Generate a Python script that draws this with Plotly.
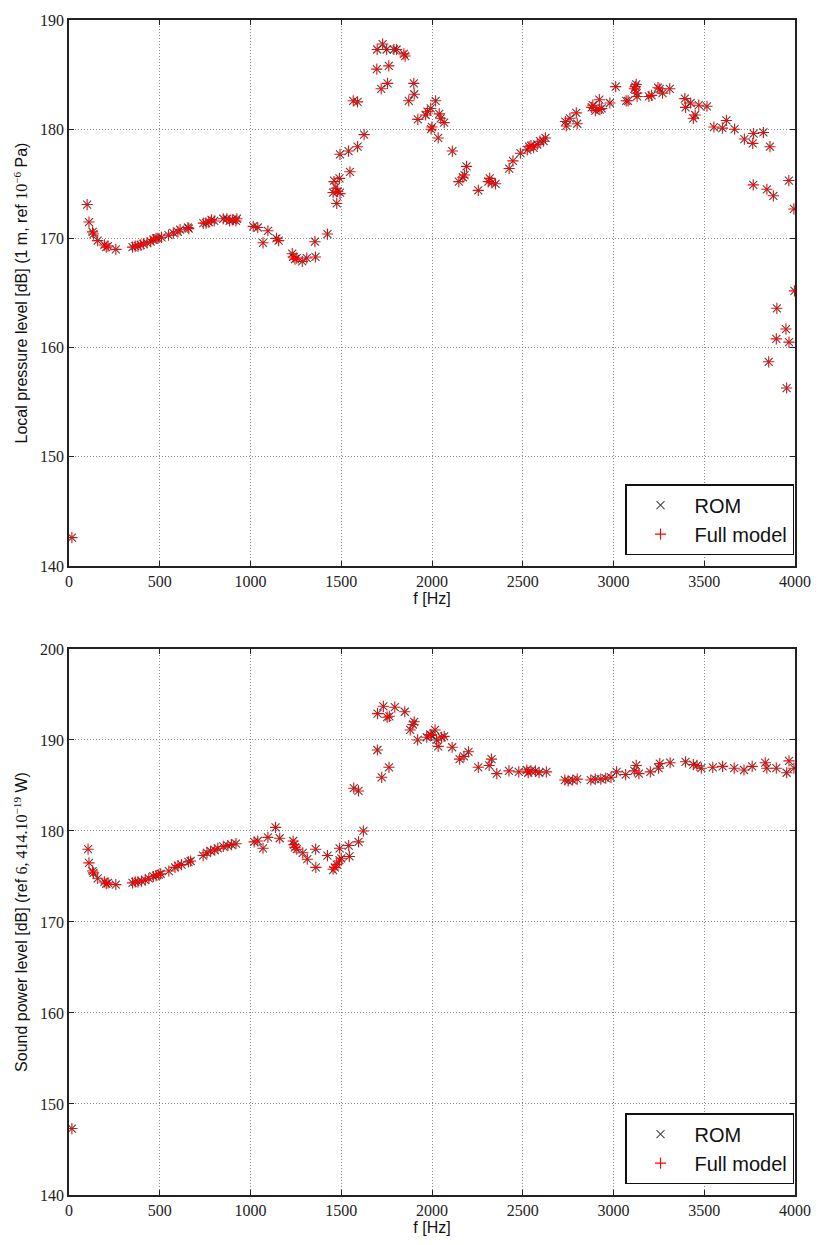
import plotly.graph_objects as go

# ---------------- Top panel: local pressure level ----------------
f_top = [16, 100, 110, 130, 135, 158, 195, 205, 215, 258, 350, 365, 380, 395, 410, 430, 450, 465, 480, 490,
         510, 548, 575, 600, 612, 655, 660, 740, 755, 770, 785, 800, 850, 870, 885, 900, 920, 925,
         1015, 1040, 1069, 1096, 1143, 1155, 1230, 1235, 1245, 1255, 1285, 1310, 1355, 1358, 1424,
         1455, 1460, 1470, 1475, 1480, 1490, 1493, 1493, 1540, 1548, 1566, 1590, 1590, 1626,
         1696, 1698, 1720, 1728, 1750, 1755, 1762, 1790, 1805, 1845, 1852, 1872, 1900, 1902, 1922,
         1965, 1975, 1993, 1995, 2000, 2020, 2034, 2040, 2048, 2067, 2112, 2148, 2170, 2179, 2190,
         2255, 2310, 2318, 2330, 2350, 2425, 2446, 2487, 2525, 2535, 2545, 2560, 2580, 2595, 2615, 2625,
         2735, 2740, 2760, 2795, 2800, 2880, 2886, 2900, 2922, 2925, 2935, 2980, 3012, 3070, 3080,
         3115, 3120, 3125, 3128, 3130, 3195, 3210, 3245, 3255, 3270, 3310, 3393, 3397, 3425, 3440,
         3450, 3470, 3515, 3553, 3600, 3622, 3667, 3721, 3767, 3770, 3772, 3826, 3845, 3855, 3862,
         3881, 3897, 3900, 3950, 3954, 3966, 3967, 3994, 3997]
lp_full = [142.6, 173.1, 171.5, 170.6, 170.4, 169.8, 169.4, 169.2, 169.3, 169.0, 169.2, 169.3, 169.3, 169.4,
           169.5, 169.6, 169.7, 169.9, 170.0, 170.0, 170.1, 170.3, 170.5, 170.6, 170.8, 171.0, 170.9,
           171.4, 171.4, 171.5, 171.7, 171.6, 171.8, 171.8, 171.6, 171.7, 171.6, 171.8,
           171.1, 171.0, 169.6, 170.7, 170.0, 169.8, 168.6, 168.3, 168.1, 168.2, 167.9, 168.2, 169.7, 168.3, 170.4,
           174.2, 175.2, 174.6, 173.2, 174.3, 175.5, 177.7, 174.1, 178.0, 176.1, 182.6, 182.5, 178.4, 179.5,
           185.5, 187.3, 183.7, 187.8, 187.3, 184.2, 185.8, 187.3, 187.3, 186.9, 186.7, 182.6, 184.2, 183.2, 180.9,
           181.3, 181.6, 181.9, 180.0, 180.2, 182.6, 179.2, 181.4, 181.0, 180.6, 178.0, 175.2, 175.6, 175.8, 176.6,
           174.4, 175.2, 175.5, 175.1, 175.0, 176.4, 177.1, 177.8, 178.1, 178.4, 178.5, 178.3, 178.6, 178.9, 178.9, 179.2,
           180.7, 180.3, 181.0, 181.5, 180.5, 182.0, 182.2, 181.7, 182.7, 181.8, 181.9, 182.4, 183.9, 182.6, 182.6,
           183.7, 183.9, 184.1, 183.3, 183.0, 183.0, 183.1, 183.8, 183.7, 183.3, 183.7, 182.8, 182.0, 182.4, 181.0,
           181.3, 182.2, 182.1, 180.2, 180.1, 180.8, 180.0, 179.1, 178.7, 174.9, 179.6, 179.7, 174.5, 158.7, 178.4,
           173.9, 160.8, 163.6, 161.7, 156.3, 175.3, 160.5, 172.7, 165.2]
lp_rom = [142.6, 173.1, 171.5, 170.6, 170.4, 169.8, 169.4, 169.2, 169.3, 169.0, 169.2, 169.3, 169.3, 169.4,
          169.5, 169.6, 169.7, 169.9, 170.0, 170.0, 170.1, 170.3, 170.5, 170.6, 170.8, 171.0, 170.9,
          171.4, 171.4, 171.5, 171.7, 171.6, 171.8, 171.8, 171.6, 171.7, 171.6, 171.8,
          171.1, 171.0, 169.6, 170.7, 170.0, 169.8, 168.6, 168.3, 168.1, 168.2, 167.9, 168.2, 169.7, 168.3, 170.4,
          174.2, 175.3, 174.7, 173.2, 174.3, 175.5, 177.7, 174.2, 178.0, 176.1, 182.6, 182.5, 178.4, 179.5,
          185.5, 187.3, 183.7, 187.8, 187.3, 184.2, 185.8, 187.3, 187.3, 186.9, 186.7, 182.6, 184.2, 183.2, 180.9,
          181.3, 181.6, 181.9, 180.0, 180.2, 182.6, 179.2, 181.4, 181.0, 180.6, 178.0, 175.2, 175.6, 175.8, 176.6,
          174.4, 175.2, 175.5, 175.1, 175.0, 176.4, 177.1, 177.8, 178.1, 178.4, 178.5, 178.3, 178.6, 178.9, 178.9, 179.2,
          180.7, 180.3, 181.0, 181.5, 180.5, 182.0, 182.2, 181.7, 182.7, 181.8, 181.9, 182.4, 183.9, 182.6, 182.6,
          183.7, 183.9, 184.1, 183.3, 183.0, 183.0, 183.1, 183.8, 183.7, 183.3, 183.7, 182.8, 182.0, 182.4, 181.0,
          181.3, 182.2, 182.1, 180.2, 180.1, 180.8, 180.0, 179.1, 178.7, 174.9, 179.6, 179.7, 174.5, 158.7, 178.4,
          173.9, 160.8, 163.6, 161.7, 156.3, 175.3, 160.5, 172.7, 165.2]

# ---------------- Bottom panel: sound power level ----------------
f_bot = [16, 105, 110, 130, 135, 158, 195, 205, 215, 258, 350, 365, 380, 400, 420, 440, 465, 480, 495, 505,
         550, 584, 600, 620, 658, 670, 739, 760, 780, 803, 820, 850, 875, 895, 920,
         1020, 1040, 1069, 1096, 1138, 1161, 1235, 1240, 1245, 1255, 1288, 1313, 1359, 1360, 1424,
         1455, 1465, 1475, 1490, 1491, 1500, 1541, 1545, 1569, 1595, 1595, 1622,
         1699, 1700, 1723, 1732, 1753, 1763, 1765, 1795, 1850, 1880, 1895, 1902, 1921, 1971, 1990, 1997,
         2017, 2025, 2034, 2053, 2067, 2111, 2152, 2176, 2201, 2255, 2315, 2328, 2357, 2424, 2478,
         2522, 2530, 2545, 2570, 2590, 2630, 2732, 2750, 2775, 2800, 2875, 2900, 2930, 2957, 2986,
         3017, 3067, 3115, 3125, 3140, 3203, 3248, 3255, 3312, 3397, 3440, 3460, 3484, 3547, 3601,
         3665, 3719, 3764, 3836, 3845, 3897, 3954, 3967, 3994]
lw_full = [147.3, 178.0, 176.5, 175.6, 175.4, 174.8, 174.4, 174.2, 174.3, 174.1, 174.3, 174.4, 174.4, 174.5,
           174.6, 174.8, 175.0, 175.1, 175.2, 175.3, 175.6, 176.0, 176.2, 176.3, 176.6, 176.7, 177.3, 177.6,
           177.8, 177.9, 178.1, 178.3, 178.4, 178.5, 178.6,
           178.8, 178.9, 178.1, 179.3, 180.4, 179.2, 178.9, 178.5, 178.2, 178.0, 177.6, 176.9, 178.0, 176.0, 177.3,
           175.8, 176.0, 176.3, 176.7, 178.1, 177.0, 178.4, 177.2, 184.7, 184.4, 178.8, 180.0,
           188.9, 192.9, 185.9, 193.7, 192.5, 187.0, 192.6, 193.6, 193.1, 191.1, 191.7, 192.0, 190.0, 190.3, 190.6, 190.5,
           191.1, 190.0, 189.3, 190.3, 190.4, 189.2, 187.9, 188.2, 188.7, 187.0, 187.2, 187.9, 186.3, 186.6, 186.5,
           186.7, 186.4, 186.6, 186.6, 186.4, 186.5, 185.6, 185.5, 185.6, 185.7, 185.6, 185.7, 185.7, 185.8, 185.9,
           186.5, 186.2, 186.6, 187.2, 186.3, 186.5, 186.9, 187.4, 187.5, 187.6, 187.3, 187.2, 186.9, 187.0, 187.1,
           186.9, 186.7, 187.1, 187.5, 186.9, 186.9, 186.4, 187.7, 186.9]
lw_rom = [147.3, 178.0, 176.5, 175.6, 175.4, 174.8, 174.4, 174.2, 174.3, 174.1, 174.3, 174.4, 174.4, 174.5,
          174.6, 174.8, 175.0, 175.1, 175.2, 175.3, 175.6, 176.0, 176.2, 176.3, 176.6, 176.7, 177.3, 177.6,
          177.8, 177.9, 178.1, 178.3, 178.4, 178.5, 178.6,
          178.8, 178.9, 178.1, 179.3, 180.4, 179.2, 178.9, 178.5, 178.2, 178.0, 177.6, 176.9, 178.0, 176.0, 177.3,
          175.7, 176.0, 176.3, 176.8, 178.1, 177.0, 178.4, 177.2, 184.7, 184.4, 178.8, 180.0,
          188.9, 192.9, 185.9, 193.7, 192.5, 187.0, 192.6, 193.6, 193.1, 191.1, 191.7, 192.0, 190.0, 190.3, 190.6, 190.5,
          191.1, 190.0, 189.3, 190.3, 190.4, 189.2, 187.9, 188.2, 188.7, 187.0, 187.2, 187.9, 186.3, 186.6, 186.5,
          186.7, 186.4, 186.6, 186.6, 186.4, 186.5, 185.6, 185.5, 185.6, 185.7, 185.6, 185.7, 185.7, 185.8, 185.9,
          186.5, 186.2, 186.6, 187.2, 186.3, 186.5, 186.9, 187.4, 187.5, 187.6, 187.3, 187.2, 186.9, 187.0, 187.1,
          186.9, 186.7, 187.1, 187.5, 186.9, 186.9, 186.4, 187.7, 186.9]

x_ticks = [0, 500, 1000, 1500, 2000, 2500, 3000, 3500, 4000]
y_ticks_top = [140, 150, 160, 170, 180, 190]
y_ticks_bot = [140, 150, 160, 170, 180, 190, 200]

SERIF = "Liberation Serif"
SANS = "Liberation Sans"
ROM_COLOR = "rgba(40,40,40,0.85)"
FULL_COLOR = "red"

fig = go.Figure()

def rom_trace(x, y, xa, ya, leg):
    return go.Scatter(x=x, y=y, mode="markers", name="ROM", xaxis=xa, yaxis=ya, legend=leg,
                      marker=dict(symbol="x-thin", size=8, line=dict(color=ROM_COLOR, width=1.1)))

def full_trace(x, y, xa, ya, leg):
    return go.Scatter(x=x, y=y, mode="markers", name="Full model", xaxis=xa, yaxis=ya, legend=leg,
                      marker=dict(symbol="cross-thin", size=8, line=dict(color=FULL_COLOR, width=1.1)))

fig.add_trace(rom_trace(f_top, lp_rom, "x", "y", "legend"))
fig.add_trace(full_trace(f_top, lp_full, "x", "y", "legend"))
fig.add_trace(rom_trace(f_bot, lw_rom, "x2", "y2", "legend2"))
fig.add_trace(full_trace(f_bot, lw_full, "x2", "y2", "legend2"))

axis_common = dict(showline=True, linecolor="#222", linewidth=1.5, mirror="allticks",
                   ticks="inside", ticklen=5, tickcolor="#222",
                   showgrid=True, gridcolor="#8a8a8a", griddash="1px,2px", gridwidth=1,
                   zeroline=False, tickfont=dict(family=SERIF, size=16, color="#222"))

tot_h = 1245 - 12 - 43
top_dom = [(1202 - 565) / tot_h, 1.0]
bot_dom = [0.0, (1202 - 649) / tot_h]

title_font = dict(family=SANS, size=16, color="#111")
legend_common = dict(bgcolor="white", bordercolor="#111", borderwidth=1.5,
                     font=dict(family=SANS, size=20, color="#111"), itemwidth=58, tracegroupgap=0)

fig.update_layout(
    width=823, height=1245,
    margin=dict(l=69, r=18, t=12, b=43),
    paper_bgcolor="white", plot_bgcolor="white",
    xaxis=dict(domain=[0, 1], anchor="y", range=[0, 4000], tickvals=x_ticks,
               title=dict(text="f [Hz]", font=title_font, standoff=3),
               **axis_common),
    yaxis=dict(domain=top_dom, anchor="x", range=[140, 190], tickvals=y_ticks_top,
               title=dict(text="Local pressure level [dB] (1 m, ref <span style='font-family:Liberation Serif'>10<sup>−6</sup></span> Pa)",
                          font=title_font, standoff=8),
               **axis_common),
    xaxis2=dict(domain=[0, 1], anchor="y2", range=[0, 4000], tickvals=x_ticks,
                title=dict(text="f [Hz]", font=title_font, standoff=3),
                **axis_common),
    yaxis2=dict(domain=bot_dom, anchor="x2", range=[140, 200], tickvals=y_ticks_bot,
                title=dict(text="Sound power level [dB] (ref <span style='font-family:Liberation Serif'>6, 414.10<sup>−19</sup></span> W)",
                           font=title_font, standoff=8),
                **axis_common),
    legend=dict(x=(804 - 69) / 736, xanchor="right", y=(1202 - 554) / tot_h, yanchor="bottom",
                **legend_common),
    legend2=dict(x=(804 - 69) / 736, xanchor="right", y=(1202 - 1191) / tot_h, yanchor="bottom",
                 **legend_common),
    showlegend=True,
)

fig.write_html("out.html")
